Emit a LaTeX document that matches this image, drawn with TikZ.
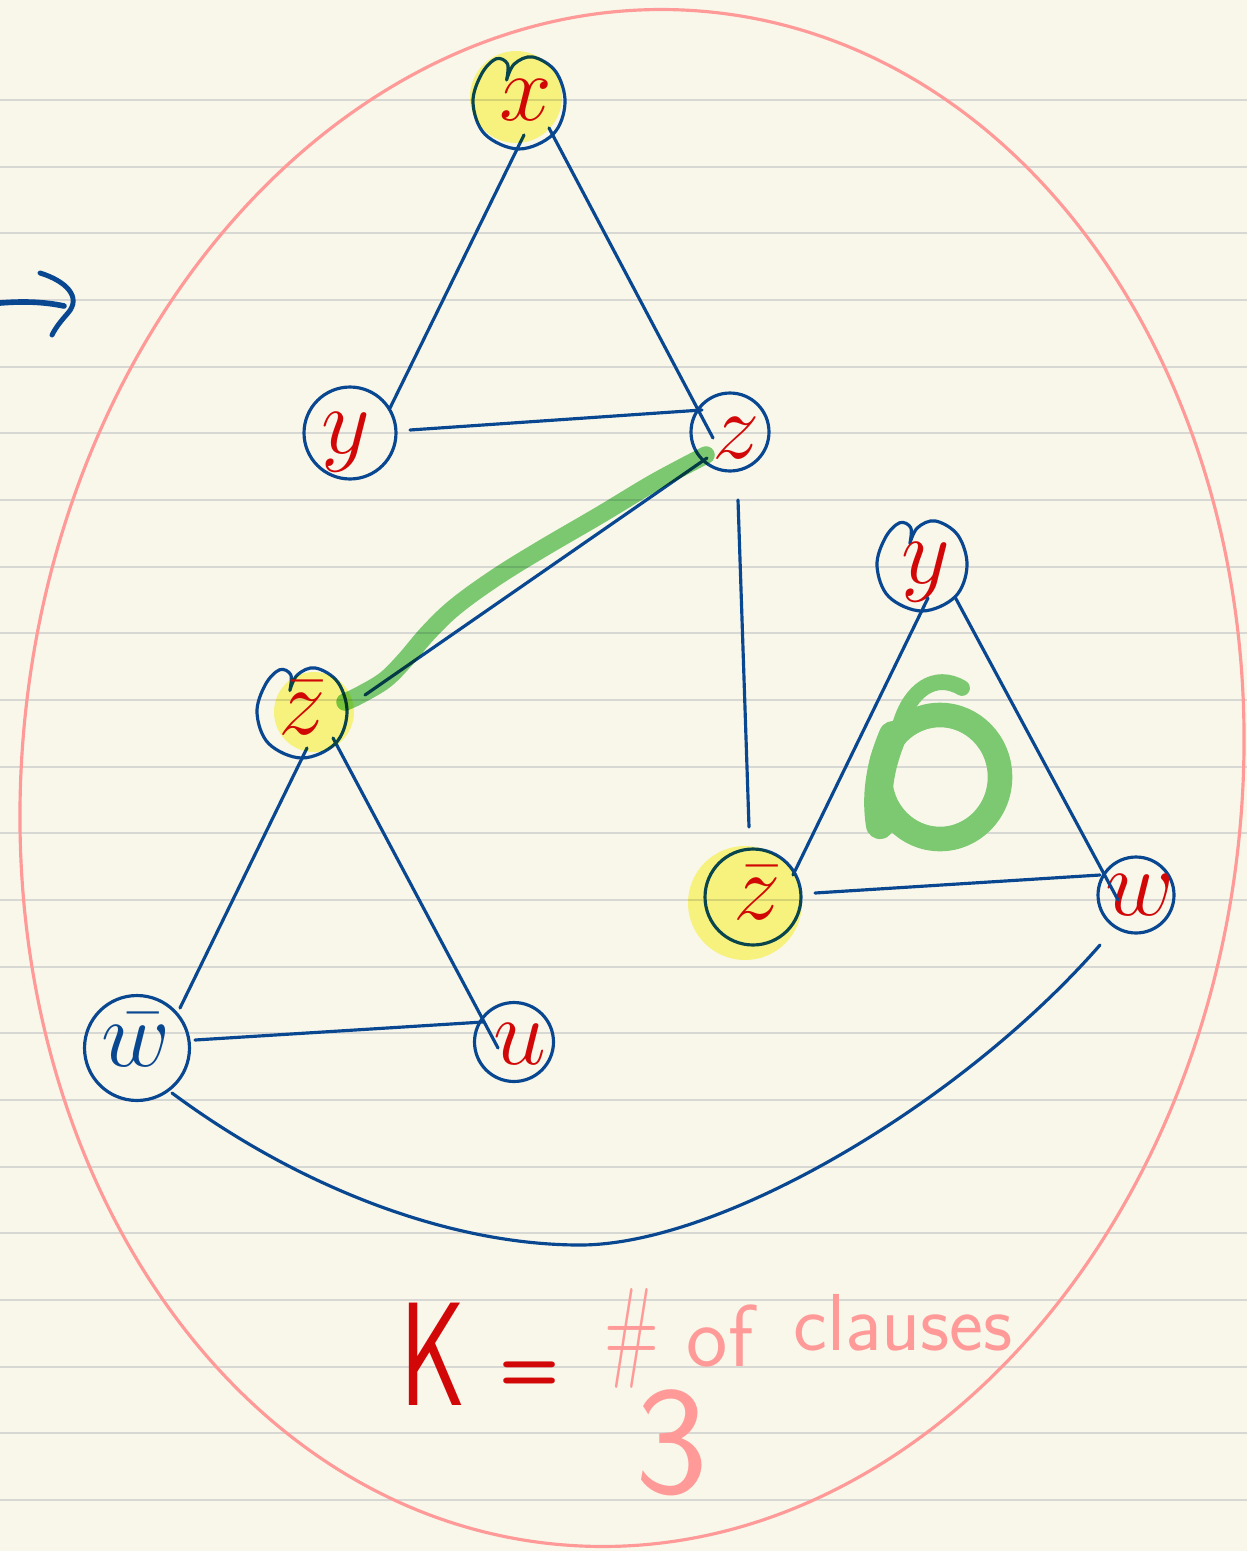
\RequirePackage{fix-cm}
\documentclass[tikz,border=0pt]{standalone}
\usepackage{fontspec}
\usetikzlibrary{calc}
\definecolor{bgc}{HTML}{F8F7EA}
\definecolor{rulec}{HTML}{D7D7D4}
\definecolor{navy}{HTML}{0A4791}
\definecolor{redc}{HTML}{D20808}
\definecolor{pinkc}{HTML}{FF9A98}
\definecolor{greenc}{HTML}{7CC972}
\definecolor{greenm}{HTML}{7FCF7C}
\definecolor{yellowc}{HTML}{FDFA89}
\newcommand{\myheart}[2]{\draw[navy, line width=1.8pt, line cap=round, line join=round, shift={(#1)}, scale=#2] plot[smooth, tension=0.6] coordinates {(-0.27,-0.5) (-0.25,-0.85) (-0.5,-0.96) (-0.82,-0.62) (-1,0) (-0.74,0.68) (0,1) (0.74,0.68) (1,0) (0.8,-0.68) (0.3,-1) (-0.1,-0.85) (-0.27,-0.5)};}
\begin{document}
\begin{tikzpicture}[x=0.02cm,y=-0.02cm,
  rule/.style={draw=rulec, line width=1.1pt},
  edge/.style={draw=navy, line width=1.8pt, line cap=round},
  vtx/.style={circle, draw=navy, line width=1.8pt, inner sep=0pt},
  hvtx/.style={circle, inner sep=0pt},
  lab/.style={text=redc, inner sep=0pt, font=\fontsize{54}{54}\selectfont},
  hl/.style={fill=yellowc, blend mode=multiply},
  pinktext/.style={text=pinkc, inner sep=0pt, font=\sffamily\fontsize{46}{46}\selectfont}]
\useasboundingbox (0,0) rectangle (1247,1551);
\fill[bgc] (0,0) rectangle (1247,1551);
\foreach \k in {0,...,21} \draw[rule] (0,{100+66.6667*\k}) -- (1247,{100+66.6667*\k});
% big ellipse
\draw[pinkc, line width=1.8pt, rotate around={-6:(632,778)}] (632,778) ellipse [x radius=610, y radius=770];
% arrow at left
\draw[navy, line width=3.2pt, line cap=round] (0,303) .. controls (25,301) and (45,302) .. (64,306);
\draw[navy, line width=2.8pt, line cap=round] (40,273) .. controls (66,281) and (82,297) .. (68,313) .. controls (61,321) and (56,327) .. (52,335);
% vertices
\node[hvtx, minimum size=1.84cm] (x) at (519,103) {};
\node[vtx, minimum size=1.84cm] (yl) at (350,433) {};
\node[vtx, minimum size=1.56cm] (z) at (730,432) {};
\node[hvtx, minimum size=1.8cm] (zbl) at (302,713) {};
\node[hvtx, minimum size=1.8cm] (yr) at (922,566) {};
\node[vtx, minimum size=1.92cm] (zbr) at (753,897) {};
\node[vtx, minimum size=1.52cm] (w) at (1136,895) {};
\node[vtx, minimum size=2.1cm] (wbar) at (137,1048) {};
\node[vtx, minimum size=1.58cm] (u) at (514,1042) {};
\myheart{x.center}{46}
\myheart{zbl.center}{45}
\myheart{yr.center}{45}
% labels
\node[lab] (xlab) at (526,100) {$x$};
\node[lab] (yllab) at (346,442) {$y$};
\node[lab] (zlab) at (736,438) {$z$};
\node[lab] (zbllab) at (302,708) {$\bar z$};
\node[lab] (yrlab) at (926,572) {$y$};
\node[lab] (zbrlab) at (757,893) {$\bar z$};
\node[lab] (wlab) at (1140,895) {$w$};
\node[lab, text=navy] (wbarlab) at (136,1040) {$\bar w$};
\node[lab] (ulab) at (520,1044) {$u$};
% edges
\draw[edge] ($(x)+(5,32)$) -- ($(yl)+(40,-25)$);
\draw[edge] ($(x)+(30,25)$) -- ($(z)+(-17,6)$);
\draw[edge] ($(yl)+(60,-3)$) -- ($(z)+(-28,-22)$);
\draw[edge] ($(z)+(-23,26)$) -- ($(zbl)+(63,-18)$);
\draw[edge] ($(z)+(8,68)$) -- ($(zbr)+(-4,-70)$);
\draw[edge] ($(yr)+(6,32)$) -- ($(zbr)+(40,-22)$);
\draw[edge] ($(yr)+(33,31)$) -- ($(w)+(-18,5)$);
\draw[edge] ($(zbr)+(62,-4)$) -- ($(w)+(-36,-20)$);
\draw[edge] ($(zbl)+(5,35)$) -- ($(wbar)+(43,-40)$);
\draw[edge] ($(zbl)+(31,25)$) -- ($(u)+(-16,6)$);
\draw[edge] ($(wbar)+(58,-8)$) -- ($(u)+(-31,-20)$);
\draw[edge] ($(wbar)+(35,45)$) .. controls (300,1188) and (450,1245) .. (580,1245) .. controls (720,1245) and (960,1105) .. ($(w)+(-36,50)$);
% highlights
\fill[hl] (516,97) circle [radius=46];
\fill[hl] (314,712) circle [radius=40];
\fill[hl] (745,903) circle [radius=57];
\draw[greenm, line width=10pt, line cap=round, line join=round, blend mode=multiply] plot[smooth, tension=0.6] coordinates {(706,455) (655,482) (600,515) (540,550) (495,578) (455,607) (428,633) (405,660) (385,680) (360,695) (345,702)};
% green six
\draw[greenc, line width=14pt] (940,777) ellipse [x radius=60, y radius=62];
\draw[greenc, line width=16pt, line cap=round] (893,735) .. controls (878,770) and (876,800) .. (880,825);
\draw[greenc, line width=9pt, line cap=round] (900,725) .. controls (910,690) and (935,672) .. (962,688);
% bottom text
\begin{scope}[shift={(433,1354)}, xscale=0.68]
\node[transform shape, text=redc, inner sep=0pt, font=\sffamily\fontsize{84}{84}\selectfont] (K) at (0,0) {K};
\end{scope}
\node[text=redc, inner sep=0pt, font=\sffamily\bfseries\fontsize{40}{40}\selectfont] (eq) at (530,1376) {=};
\begin{scope}[shift={(632,1338)}, xscale=0.62]
\node[transform shape, pinktext, font=\sffamily\fontsize{64}{64}\selectfont] (hash) at (0,0) {\#};
\end{scope}
\node[pinktext, font=\sffamily\fontsize{50}{50}\selectfont] (of) at (720,1336) {of};
\node[pinktext] (cl) at (903,1323) {clauses};
\node[text=pinkc, inner sep=0pt, font=\sffamily\fontsize{88}{88}\selectfont] (three) at (672,1443) {3};
\end{tikzpicture}
\end{document}
